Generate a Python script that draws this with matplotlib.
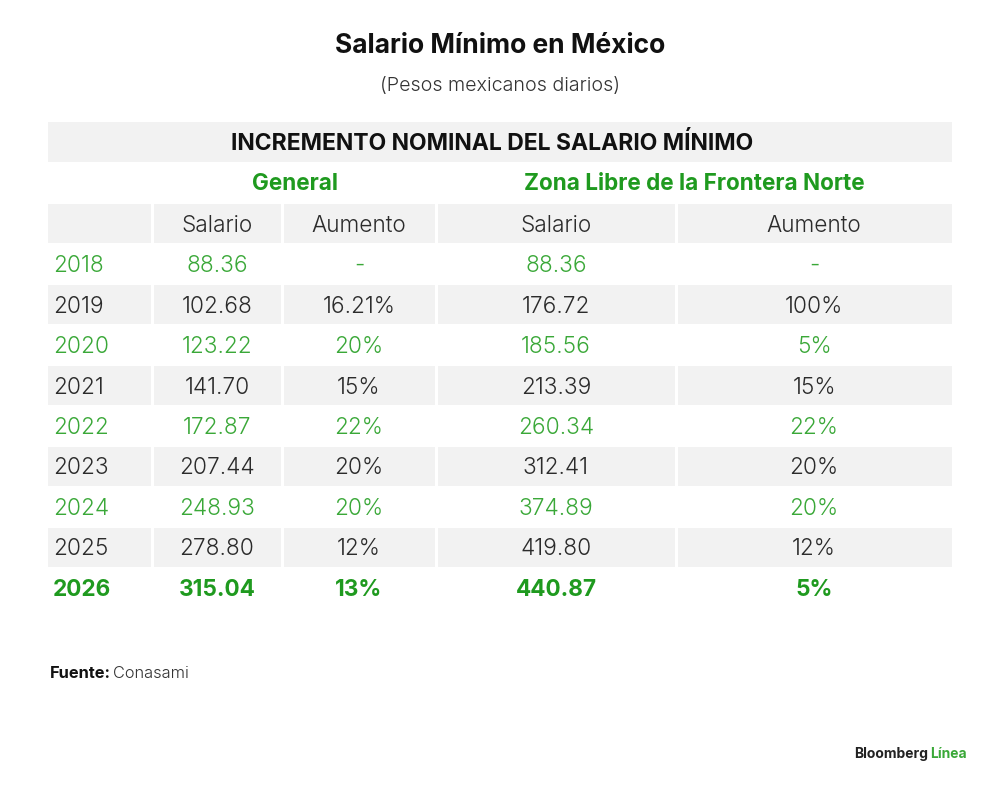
import matplotlib
matplotlib.use("Agg")
import matplotlib.pyplot as plt
from matplotlib.patches import Rectangle

years = ["2018", "2019", "2020", "2021", "2022", "2023", "2024", "2025", "2026"]
general_salario = ["88.36", "102.68", "123.22", "141.70", "172.87", "207.44", "248.93", "278.80", "315.04"]
general_aumento = ["-", "16.21%", "20%", "15%", "22%", "20%", "20%", "12%", "13%"]
zona_salario = ["88.36", "176.72", "185.56", "213.39", "260.34", "312.41", "374.89", "419.80", "440.87"]
zona_aumento = ["-", "100%", "5%", "15%", "22%", "20%", "20%", "12%", "5%"]

title = "Salario Mínimo en México"
subtitle = "(Pesos mexicanos diarios)"
band_title = "INCREMENTO NOMINAL DEL SALARIO MÍNIMO"
groups = ["General", "Zona Libre de la Frontera Norte"]
col_headers = ["", "Salario", "Aumento", "Salario", "Aumento"]

FONT = "Inter"
GREEN = "#3aa838"
GREEN_B = "#1f9a1f"
DARK = "#2b2b2b"
GRAY = "#f2f2f2"
FS = 16.3
LIGHT = 300

fig = plt.figure(figsize=(10, 7.88), dpi=100)
ax = fig.add_axes([0, 0, 1, 1])
ax.set_xlim(0, 1000)
ax.set_ylim(788, 0)
ax.axis("off")

col_edges = [48, 152, 282, 436, 676, 952]
col_centers = [0, 217, 359, 556, 814]
gap = 1.5
dy = 2

ax.text(500, 46, title, ha="center", va="center", fontsize=19, fontweight="bold",
        family=FONT, color="#111111")
ax.text(500, 86, subtitle, ha="center", va="center", fontsize=14.2, fontweight=LIGHT,
        family=FONT, color="#333333")

# band title
ax.add_patch(Rectangle((48, 122), 904, 40, color=GRAY, lw=0))
ax.text(492, 143, band_title, ha="center", va="center", fontsize=16.5, fontweight="bold",
        family=FONT, color="#111111")

# group headers
ax.text(295, 184, groups[0], ha="center", va="center", fontsize=16.2, fontweight="bold",
        family=FONT, color=GREEN_B)
ax.text(694, 184, groups[1], ha="center", va="center", fontsize=16.2, fontweight="bold",
        family=FONT, color=GREEN_B)

row_h = 40.45
y0 = 203.5

def draw_cells(top):
    for i in range(5):
        x0 = col_edges[i] + (gap if i > 0 else 0)
        x1 = col_edges[i + 1] - (gap if i < 4 else 0)
        ax.add_patch(Rectangle((x0, top + 0.5), x1 - x0, row_h - 1, color=GRAY, lw=0))

# column header row
draw_cells(y0)
for i in range(1, 5):
    ax.text(col_centers[i], y0 + row_h / 2 + dy, col_headers[i], ha="center", va="center",
            fontsize=FS, family=FONT, color=DARK, fontweight=LIGHT)

for r, yr in enumerate(years):
    top = y0 + (r + 1) * row_h
    green = (r % 2 == 0)
    last = (r == len(years) - 1)
    if not green:
        draw_cells(top)
    color = GREEN_B if last else (GREEN if green else DARK)
    weight = "bold" if last else LIGHT
    vals = [yr, general_salario[r], general_aumento[r], zona_salario[r], zona_aumento[r]]
    yc = top + row_h / 2 + dy
    ax.text(53, yc, vals[0], ha="left", va="center", fontsize=FS, family=FONT,
            color=color, fontweight=weight)
    for i in range(1, 5):
        ax.text(col_centers[i], yc, vals[i], ha="center", va="center", fontsize=FS,
                family=FONT, color=color, fontweight=weight)

# source
t1 = ax.text(50, 673, "Fuente:", ha="left", va="center", fontsize=11.8, fontweight="bold",
             family=FONT, color="#111111")
fig.canvas.draw()
bb = t1.get_window_extent()
ax.annotate("Conasami", xy=(bb.x1 + 2, 788 - 673), xycoords="figure pixels",
            ha="left", va="center", fontsize=11.8, family=FONT, color="#333333",
            fontweight=LIGHT)

# logo
ax.text(928, 754, "Bloomberg", ha="right", va="center", fontsize=10, fontweight="bold",
        family=FONT, color="#222222")
ax.text(930, 754, "Línea", ha="left", va="center", fontsize=10, fontweight="bold",
        family=FONT, color=GREEN)

fig.savefig("out.png", dpi=100, facecolor="white")
